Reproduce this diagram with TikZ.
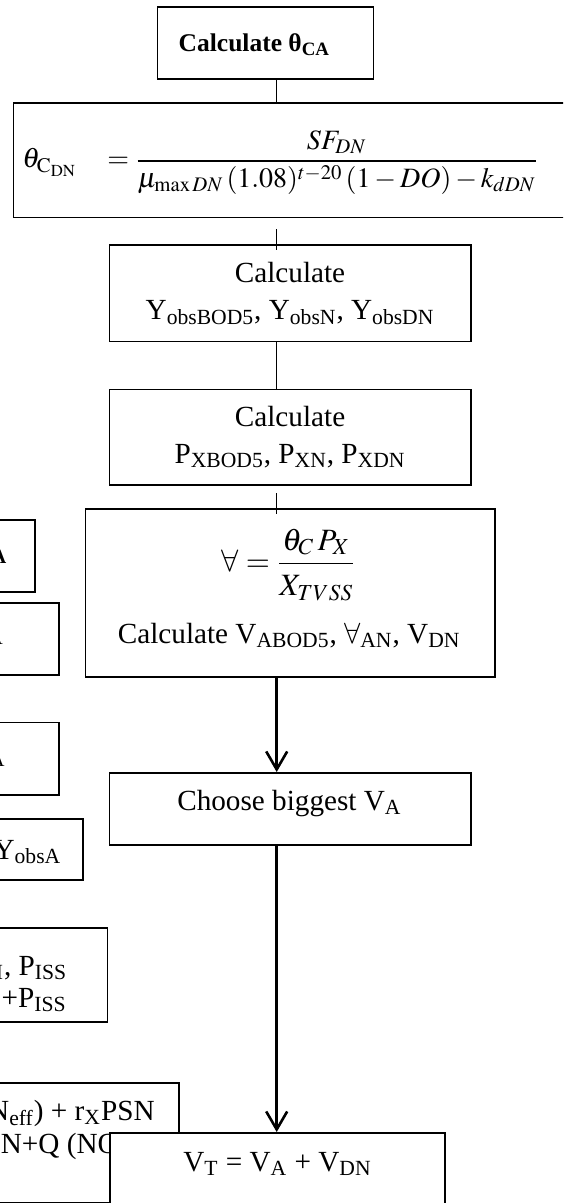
\documentclass[tikz,border=0pt]{standalone}
\usepackage{amsmath}
\usepackage{mathptmx}
\usepackage{fontspec}
\setmainfont{Liberation Serif}
\usetikzlibrary{arrows.meta}

\tikzset{
  box/.style={draw, line width=0.85pt, fill=white, inner sep=0pt, anchor=north west},
  txt/.style={inner sep=0pt, font=\fontsize{14.6}{18.5}\selectfont},
  sub txt/.style={inner sep=0pt, font=\fontsize{10.2}{12}\selectfont},
  head txt/.style={inner sep=0pt, font=\fontsize{12.75}{15}\selectfont\bfseries},
  eq/.style={inner sep=0pt, font=\fontsize{15.5}{18}\selectfont},
  link/.style={line width=0.75pt},
  flow/.style={line width=1.3pt, -{Straight Barb[length=9pt, width=10.5pt]}},
}

\begin{document}
\begin{tikzpicture}[x=0.5pt, y=-0.5pt]
    \useasboundingbox (0,0) rectangle (563,1203);
    \clip (0,0) rectangle (563,1203);

    % boxes cut off at the left border
    \node[box, minimum width=47.15pt, minimum height=36pt]    (left-a) at (-60,519)    {};
    \node[box, minimum width=59.15pt, minimum height=36pt]    (left-b) at (-60,602.3)  {};
    \node[box, minimum width=59.15pt, minimum height=36.15pt] (left-c) at (-60,721.7)  {};
    \node[box, minimum width=71.15pt, minimum height=30.5pt]  (left-d) at (-60,818.3)  {};
    \node[box, minimum width=83.35pt, minimum height=47pt]    (left-e) at (-60,927.3)  {};
    \node[box, minimum width=119.15pt, minimum height=59.7pt] (left-f) at (-60,1082.3) {};

    \node[sub txt, font=\fontsize{10.2}{12}\selectfont\bfseries, anchor=base east] (left-a-txt) at (6.7,563) {A};
    \node[sub txt, anchor=base east] (left-b-txt) at (3.3,644) {A};
    \node[sub txt, anchor=base east] (left-c-txt) at (5,766) {A};
    \node[txt, anchor=base east] (left-d-txt) at (61.7,859) {Y\textsubscript{obsA}};
    \node[txt, anchor=base east] (left-e-txt1) at (67.5,975) {\textsubscript{H}, P\textsubscript{ISS}};
    \node[txt, anchor=base east] (left-e-txt2) at (67,1007) {+P\textsubscript{ISS}};
    \node[txt, anchor=base east] (left-f-txt1) at (155,1120) {N\textsubscript{eff}) + r\textsubscript{X}PSN};
    \node[txt, anchor=base west] (left-f-txt2) at (0.5,1153) {N+Q (NO};

    % main column
    \node[box, minimum width=108pt, minimum height=36.15pt]   (calc-theta) at (156.5,6)   {};
    \node[box, minimum width=303.7pt, minimum height=57.15pt] (theta-eq)   at (12.6,102.3) {};
    \node[box, minimum width=180.6pt, minimum height=48.35pt] (calc-yobs)  at (108.6,244) {};
    \node[box, minimum width=180.6pt, minimum height=47.65pt] (calc-px)    at (108.6,388.7) {};
    \node[box, minimum width=204.7pt, minimum height=83.85pt] (calc-vol)   at (84.5,508.3) {};
    \node[box, minimum width=180.6pt, minimum height=36.15pt] (choose-va)  at (108.6,772) {};
    \node[box, minimum width=167.65pt, minimum height=64pt]   (vol-total)  at (109,1132)  {};

    \node[head txt, anchor=base west] (calc-theta-txt) at (178.3,51.7) {Calculate θ\textsubscript{CA}};
    \node[eq, font=\fontsize{14}{17}\selectfont, anchor=base west] (theta-eq-txt) at (22,168)
        {$\theta_{\mathrm{C}_{\mathrm{DN}}}\hspace{12pt} = \dfrac{SF_{DN}}{\mu_{\max DN}\,(1.08)^{t-20}\,(1-DO)-k_{dDN}}$};
    \node[txt, align=center] (calc-yobs-txt) at (calc-yobs.center)
        {Calculate\\Y\textsubscript{obsBOD5}, Y\textsubscript{obsN}, Y\textsubscript{obsDN}};
    \node[txt, align=center] (calc-px-txt) at (calc-px.center)
        {Calculate\\P\textsubscript{XBOD5}, P\textsubscript{XN}, P\textsubscript{XDN}};
    \node[eq, anchor=base] (calc-vol-eq) at (288.7,571)
        {$\forall = \dfrac{\theta_{C}\,P_{X}\rule[-4pt]{0pt}{4pt}}{X_{TVSS}\rule{0pt}{14pt}}$};
    \node[txt, anchor=base] (calc-vol-txt) at (289.2,643)
        {Calculate V\textsubscript{ABOD5}, $\forall$\textsubscript{AN}, V\textsubscript{DN}};
    \node[txt, anchor=base] (choose-va-txt) at (289.4,810) {Choose biggest V\textsubscript{A}};
    \node[txt, anchor=base] (vol-total-txt) at (277.5,1171) {V\textsubscript{T} = V\textsubscript{A} + V\textsubscript{DN}};

    % connectors along one vertical line
    \coordinate (spine) at (276.7,0);
    \draw[link] (calc-theta.south -| spine) -- (theta-eq.north -| spine);
    \draw[link, shorten <=5.6pt, shorten >=-3pt] (theta-eq.south -| spine) -- (calc-yobs.north -| spine);
    \draw[link, shorten >=-0.7pt] (calc-yobs.south -| spine) -- (calc-px.north -| spine);
    \draw[link, shorten <=3.85pt, shorten >=-3pt] (calc-px.south -| spine) -- (calc-vol.north -| spine);
    \draw[flow] (calc-vol.south -| spine) -- (choose-va.north -| spine);
    \draw[flow] (choose-va.south -| spine) -- (vol-total.north -| spine);
\end{tikzpicture}
\end{document}
